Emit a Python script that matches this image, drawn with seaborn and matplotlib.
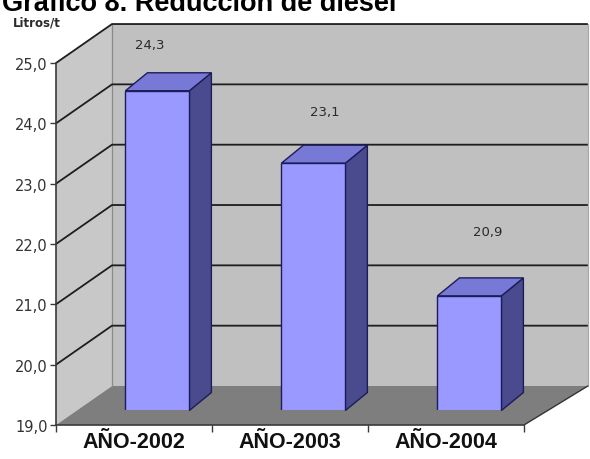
import matplotlib
matplotlib.use("Agg")
import matplotlib.pyplot as plt
import pandas as pd
import seaborn as sns
from matplotlib.patches import Polygon, Rectangle
from matplotlib.transforms import Affine2D
from matplotlib.ticker import FuncFormatter

# ---- data -------------------------------------------------------------
years = ["AÑO-2002", "AÑO-2003", "AÑO-2004"]
litros = [24.3, 23.1, 20.9]
y_ticks = [19, 20, 21, 22, 23, 24, 25]
title = "Gráfico 8. Reducción de diesel"
unit_label = "Litros/t"

# ---- layout / style ---------------------------------------------------
Y_MIN, Y_MAX = 19, 25
X_MIN, X_MAX = -0.5, 2.5
WALL_DX, WALL_DY = 0.359, 0.646      # depth of the 3-D box (data units)
BACK_SPREAD = 0.05                   # slight perspective widening at the back
FACE_DX, FACE_DY = 0.15, 0.24        # bar front face set back into the box
BAR_DX, BAR_DY = 0.141, 0.298        # depth of each column
label_dx = [0.10, 0.22, 0.27]
label_dy = [1.00, 1.09, 1.30]

FRONT = "#9999FF"
TOP = "#7878D6"
SIDE = "#4A4A8E"
EDGE = "#1C1C5A"

sns.set_theme(style="white")
plt.rcParams["font.family"] = ["DejaVu Sans"]

fig = plt.figure(figsize=(5.9, 4.6), dpi=100)
ax = fig.add_axes([0, 0, 1, 1])

df = pd.DataFrame({"anio": years, "litros": litros})
sns.barplot(data=df, x="anio", y="litros", color=FRONT, saturation=1,
            width=0.41, edgecolor=EDGE, linewidth=1.0, ax=ax, zorder=3)
bars = list(ax.patches)

ax.set_xlim(-0.859, 2.923)
ax.set_ylim(18.436, 26.061)
ax.set_xlabel("")
ax.set_ylabel("")
ax.set_facecolor("white")

# ---- walls, floor and gridlines ---------------------------------------
x0, x1 = X_MIN, X_MAX
bx0, bx1 = x0 + WALL_DX, x1 + WALL_DX + BACK_SPREAD
left_wall = Polygon([(x0, Y_MIN), (x0, Y_MAX), (bx0, Y_MAX + WALL_DY),
                     (bx0, Y_MIN + WALL_DY)],
                    closed=True, fc="#C8C8C8", ec="none", zorder=0.5)
back_wall = Polygon([(bx0, Y_MIN + WALL_DY), (bx0, Y_MAX + WALL_DY),
                     (bx1, Y_MAX + WALL_DY), (bx1, Y_MIN + WALL_DY)],
                    closed=True, fc="#C0C0C0", ec="none", zorder=0.5)
floor = Polygon([(x0, Y_MIN), (x1, Y_MIN), (bx1, Y_MIN + WALL_DY),
                 (bx0, Y_MIN + WALL_DY)],
                closed=True, fc="#7E7E7E", ec="none", zorder=0.6)
for poly in (left_wall, back_wall, floor):
    ax.add_patch(poly)

for v in y_ticks[1:]:
    ax.plot([x0, bx0, bx1], [v, v + WALL_DY, v + WALL_DY],
            color="#1E1E1E", lw=1.3, zorder=0.8, solid_capstyle="butt")
ax.plot([bx0] * 2, [Y_MIN + WALL_DY, Y_MAX + WALL_DY],
        color="#8A8A8A", lw=0.9, zorder=0.7)
ax.plot([bx1] * 2, [Y_MIN + WALL_DY, Y_MAX + WALL_DY],
        color="#A8A8A8", lw=0.9, zorder=0.7)
ax.plot([x1, bx1], [Y_MIN, Y_MIN + WALL_DY],
        color="#333333", lw=1.0, zorder=0.9)

# ---- 3-D columns -------------------------------------------------------
shift = Affine2D().translate(FACE_DX, FACE_DY) + ax.transData
clip_floor = Rectangle((-5, Y_MIN), 20, 20, transform=shift)
for bar in bars:
    xl = bar.get_x()
    xr = xl + bar.get_width()
    top = bar.get_y() + bar.get_height()
    bar.set_transform(shift)
    bar.set_clip_path(clip_floor)
    side = Polygon([(xr, Y_MIN), (xr, top), (xr + BAR_DX, top + BAR_DY),
                    (xr + BAR_DX, Y_MIN + BAR_DY)],
                   closed=True, fc=SIDE, ec=EDGE, lw=1.0, transform=shift, zorder=2.9)
    lid = Polygon([(xl, top), (xr, top), (xr + BAR_DX, top + BAR_DY),
                   (xl + BAR_DX, top + BAR_DY)],
                  closed=True, fc=TOP, ec=EDGE, lw=1.0, transform=shift, zorder=2.9)
    ax.add_patch(side)
    ax.add_patch(lid)

# ---- value labels -------------------------------------------------------
for i, v in enumerate(litros):
    ax.text(i + label_dx[i], v + label_dy[i], f"{v:.1f}".replace(".", ","),
            ha="center", va="center", fontsize=9.5, color="#2A2A2A", zorder=5)

# ---- axes ----------------------------------------------------------------
for s in ("top", "right"):
    ax.spines[s].set_visible(False)
ax.spines["left"].set_position(("data", X_MIN))
ax.spines["left"].set_bounds(Y_MIN, Y_MAX)
ax.spines["bottom"].set_position(("data", Y_MIN))
ax.spines["bottom"].set_bounds(X_MIN, X_MAX)
for s in ("left", "bottom"):
    ax.spines[s].set_color("#3A3A3A")
    ax.spines[s].set_linewidth(1.2)
    ax.spines[s].set_zorder(4)

ax.set_yticks(y_ticks)
ax.yaxis.set_major_formatter(FuncFormatter(lambda v, p: f"{v:.1f}".replace(".", ",")))
ax.tick_params(axis="y", which="major", direction="out", length=4, width=1.0,
               color="#3A3A3A", labelsize=10.5, labelcolor="#333333", pad=2, left=True)

ax.set_xticks([0, 1, 2])
ax.set_xticklabels(years, fontsize=15.5, fontweight="bold",
                   family=["Liberation Sans", "DejaVu Sans"], color="#111111")
ax.set_xticks([-0.5, 0.5, 1.5, 2.5], minor=True)
ax.tick_params(axis="x", which="major", length=0, pad=4, bottom=True)
ax.tick_params(axis="x", which="minor", direction="out", length=5, width=1.0,
               color="#3A3A3A", bottom=True)

# ---- titles -------------------------------------------------------------
fig.text(0.004, 1 - 11 / 460, title, fontsize=19.5, fontweight="bold",
         family=["Liberation Sans", "DejaVu Sans"], ha="left", va="baseline",
         color="black")
fig.text(13 / 590, 1 - 23 / 460, unit_label, fontsize=8.5, fontweight="bold",
         ha="left", va="center", color="#2A2A2A")

fig.savefig("out.png", dpi=100)
